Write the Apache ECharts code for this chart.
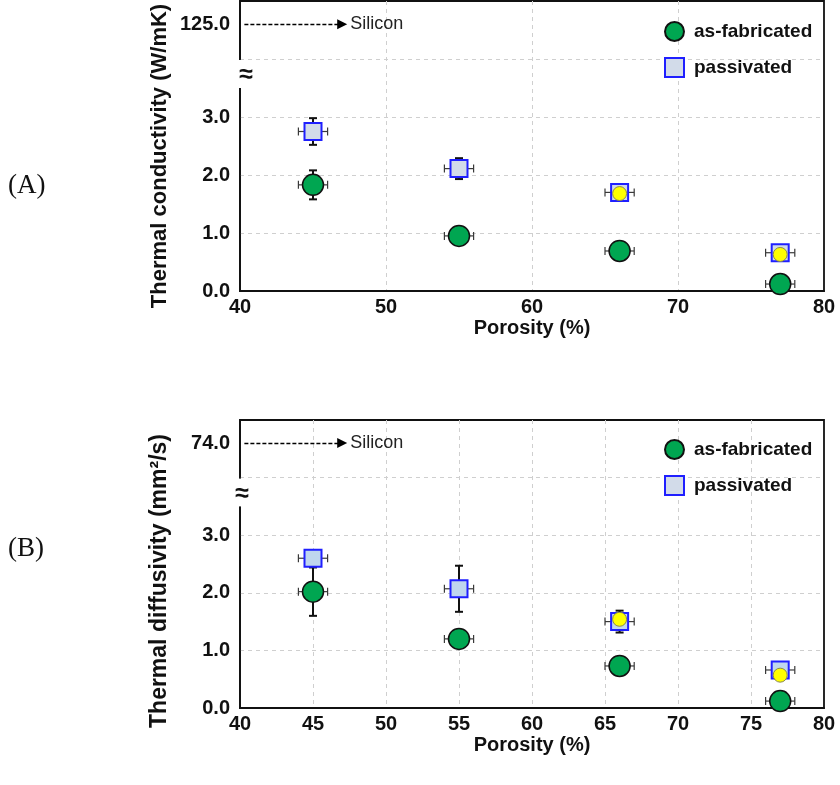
<!DOCTYPE html>
<html>
<head>
<meta charset="utf-8">
<script src="https://cdn.jsdelivr.net/npm/echarts@6/dist/echarts.min.js"></script>
<style>
  html, body { margin: 0; padding: 0; background: #ffffff; }
  #chart { width: 840px; height: 785px; }
</style>
</head>
<body>
<div id="chart"></div>
<script>
// Porosity of the samples (%) and its uncertainty
const porosity = [45, 55, 66, 77];
const porosityErr = [1.0, 1.0, 1.0, 1.0];
const porosityYellow = [66, 77];

// (A) thermal conductivity, W/mK
const kFabricated = [1.83, 0.95, 0.69, 0.12];
const kFabricatedErr = [0.25, 0.06, 0.05, 0.04];
const kPassivated = [2.75, 2.11, 1.70, 0.66];
const kPassivatedErr = [0.23, 0.18, 0.08, 0.05];
const kYellow = [1.68, 0.63];
const siliconK = 125.0;

// (B) thermal diffusivity, mm²/s
const dFabricated = [2.02, 1.20, 0.73, 0.12];
const dFabricatedErr = [0.42, 0.05, 0.05, 0.04];
const dPassivated = [2.60, 2.07, 1.50, 0.66];
const dPassivatedErr = [0.13, 0.40, 0.19, 0.05];
const dYellow = [1.54, 0.57];
const siliconD = 74.0;

// Axis tick labels
const yTicks = [0, 1, 2, 3];
const xTicksA = [40, 50, 60, 70, 80];
const xTicksB = [40, 45, 50, 55, 60, 65, 70, 75, 80];

// Where the broken part of the y axis places the silicon reference value
const BREAK_POS = 4.6;
const ARROW_END = 47;

const FONT = '"Liberation Sans", Arial, sans-serif';
const SERIF = '"Liberation Serif", "Times New Roman", serif';

function errorItem(params, api) {
  const x = api.value(0), y = api.value(1), dx = api.value(2), dy = api.value(3);
  const l = api.coord([x - dx, y]), r = api.coord([x + dx, y]);
  const t = api.coord([x, y + dy]), b = api.coord([x, y - dy]);
  const hs = { stroke: '#3a3a3a', lineWidth: 1.2 };
  const vs = { stroke: '#111111', lineWidth: 2 };
  const cap = 4;
  return {
    type: 'group',
    children: [
      { type: 'line', shape: { x1: l[0], y1: l[1], x2: r[0], y2: r[1] }, style: hs },
      { type: 'line', shape: { x1: l[0], y1: l[1] - cap, x2: l[0], y2: l[1] + cap }, style: hs },
      { type: 'line', shape: { x1: r[0], y1: r[1] - cap, x2: r[0], y2: r[1] + cap }, style: hs },
      { type: 'line', shape: { x1: t[0], y1: t[1], x2: b[0], y2: b[1] }, style: vs },
      { type: 'line', shape: { x1: t[0] - cap, y1: t[1], x2: t[0] + cap, y2: t[1] }, style: vs },
      { type: 'line', shape: { x1: b[0] - cap, y1: b[1], x2: b[0] + cap, y2: b[1] }, style: vs }
    ]
  };
}

function errRows(values, errs) {
  return porosity.map((p, i) => [p, values[i], porosityErr[i], errs[i]]);
}
function pts(xs, values) {
  return xs.map((p, i) => [p, values[i]]);
}

const gridLine = { show: true, showMinLine: false, showMaxLine: false,
                   lineStyle: { color: '#cfcfcf', width: 1, type: [4, 4] } };

function xAxisFor(gridIndex, ticks) {
  return {
    gridIndex, type: 'value', min: ticks[0], max: ticks[ticks.length - 1],
    interval: ticks[1] - ticks[0],
    name: 'Porosity (%)', nameLocation: 'middle', nameGap: 27,
    nameTextStyle: { fontFamily: FONT, fontWeight: 'bold', fontSize: 20, color: '#111' },
    axisLine: { show: true, onZero: false, lineStyle: { color: '#111', width: 1.8 } },
    axisTick: { show: false },
    axisLabel: { fontFamily: FONT, fontWeight: 'bold', fontSize: 20, color: '#111', margin: 6 },
    splitLine: gridLine
  };
}

function yAxisFor(gridIndex, silicon) {
  return {
    gridIndex, type: 'value', min: 0, max: 5, interval: 1,
    axisLine: { show: true, lineStyle: { color: '#111', width: 1.8 } },
    axisTick: { show: false },
    axisLabel: {
      customValues: yTicks.concat([BREAK_POS]),
      fontFamily: FONT, fontWeight: 'bold', fontSize: 20, color: '#111', margin: 10,
      formatter: v => (Math.abs(v - BREAK_POS) < 1e-6 ? silicon.toFixed(1) : v.toFixed(1))
    },
    splitLine: gridLine
  };
}

function seriesFor(idx, fab, fabErr, pas, pasErr, yel, pasFill) {
  return [
    { type: 'custom', name: 'err-fab', xAxisIndex: idx, yAxisIndex: idx, renderItem: errorItem,
      data: errRows(fab, fabErr), z: 1, silent: true },
    { type: 'custom', name: 'err-pas', xAxisIndex: idx, yAxisIndex: idx, renderItem: errorItem,
      data: errRows(pas, pasErr), z: 1, silent: true },
    { type: 'scatter', name: 'as-fabricated', xAxisIndex: idx, yAxisIndex: idx, symbol: 'circle', symbolSize: 21,
      itemStyle: { color: '#00a651', borderColor: '#111', borderWidth: 1.5, opacity: 1 },
      data: pts(porosity, fab), z: 3 },
    { type: 'scatter', name: 'passivated', xAxisIndex: idx, yAxisIndex: idx, symbol: 'rect', symbolSize: 17,
      itemStyle: { color: pasFill, borderColor: '#1f1fff', borderWidth: 2, opacity: 1 },
      data: pts(porosity, pas), z: 4 },
    { type: 'scatter', name: 'passivated-overlay', xAxisIndex: idx, yAxisIndex: idx, symbol: 'circle', symbolSize: 14,
      itemStyle: { color: '#ffff00', borderColor: '#8a874c', borderWidth: 1, opacity: 1 },
      data: pts(porosityYellow, yel), z: 5 },
    { type: 'scatter', name: 'silicon', xAxisIndex: idx, yAxisIndex: idx, data: [], silent: true,
      markLine: {
        silent: true, symbol: ['none', 'triangle'], symbolSize: 10,
        lineStyle: { color: '#000', width: 1.3, type: [4, 2] },
        label: { show: true, position: 'end', distance: 8, formatter: 'Silicon',
                 fontFamily: FONT, fontSize: 18, color: '#222' },
        data: [[{ coord: [40.3, BREAK_POS] }, { coord: [ARROW_END, BREAK_POS] }]]
      } }
  ];
}

function legendFor(top) {
  return {
    data: ['as-fabricated', 'passivated'], orient: 'vertical', left: 664, top,
    padding: 0, itemGap: 15, itemWidth: 19, itemHeight: 19, selectedMode: false,
    textStyle: { fontFamily: FONT, fontWeight: 'bold', fontSize: 19, color: '#111', padding: [0, 0, 0, 5] }
  };
}

const chart = echarts.init(document.getElementById('chart'), null, { renderer: 'canvas' });
chart.setOption({
  backgroundColor: '#ffffff',
  animation: false,
  grid: [
    { left: 240, right: 16, top: 1, height: 290, show: true, borderColor: '#111', borderWidth: 1.8 },
    { left: 240, right: 16, top: 420, height: 288, show: true, borderColor: '#111', borderWidth: 1.8 }
  ],
  xAxis: [xAxisFor(0, xTicksA), xAxisFor(1, xTicksB)],
  yAxis: [yAxisFor(0, siliconK), yAxisFor(1, siliconD)],
  legend: [legendFor(21), legendFor(439)],
  series: [].concat(
    seriesFor(0, kFabricated, kFabricatedErr, kPassivated, kPassivatedErr, kYellow, '#d2dbe9'),
    seriesFor(1, dFabricated, dFabricatedErr, dPassivated, dPassivatedErr, dYellow, '#bfd6ee')
  )
});

// Axis break marks, panel letters and rotated axis titles
function breakMark(gridIndex, dx) {
  const top = chart.convertToPixel({ gridIndex }, [40, 4]);
  const bot = chart.convertToPixel({ gridIndex }, [40, 3.5]);
  return [
    { type: 'rect', shape: { x: top[0] - 4, y: top[1] + 1, width: 8, height: bot[1] - top[1] - 1 },
      style: { fill: '#ffffff' }, z: 100 },
    { type: 'text', x: top[0] + dx, y: (top[1] + bot[1]) / 2 + 2, z: 101,
      style: { text: '≈', fontFamily: FONT, fontWeight: 'bold', fontSize: 25, fill: '#111',
               align: 'center', verticalAlign: 'middle' } }
  ];
}
function vTitle(text, x, y, size) {
  return { type: 'text', x, y, rotation: Math.PI / 2, z: 100,
    style: { text, fontFamily: FONT, fontWeight: 'bold', fontSize: size, fill: '#111',
             align: 'center', verticalAlign: 'middle' } };
}
function panelLetter(text, y) {
  return { type: 'text', x: 8, y, z: 100,
    style: { text, fontFamily: SERIF, fontSize: 27, fill: '#111', verticalAlign: 'middle' } };
}

chart.setOption({
  graphic: [].concat(
    breakMark(0, 6),
    breakMark(1, 2),
    [
      vTitle('Thermal conductivity (W/mK)', 160, 156, 22),
      vTitle('Thermal diffusivity (mm²/s)', 160, 581, 23),
      panelLetter('(A)', 186),
      panelLetter('(B)', 549)
    ]
  )
});
</script>
</body>
</html>
